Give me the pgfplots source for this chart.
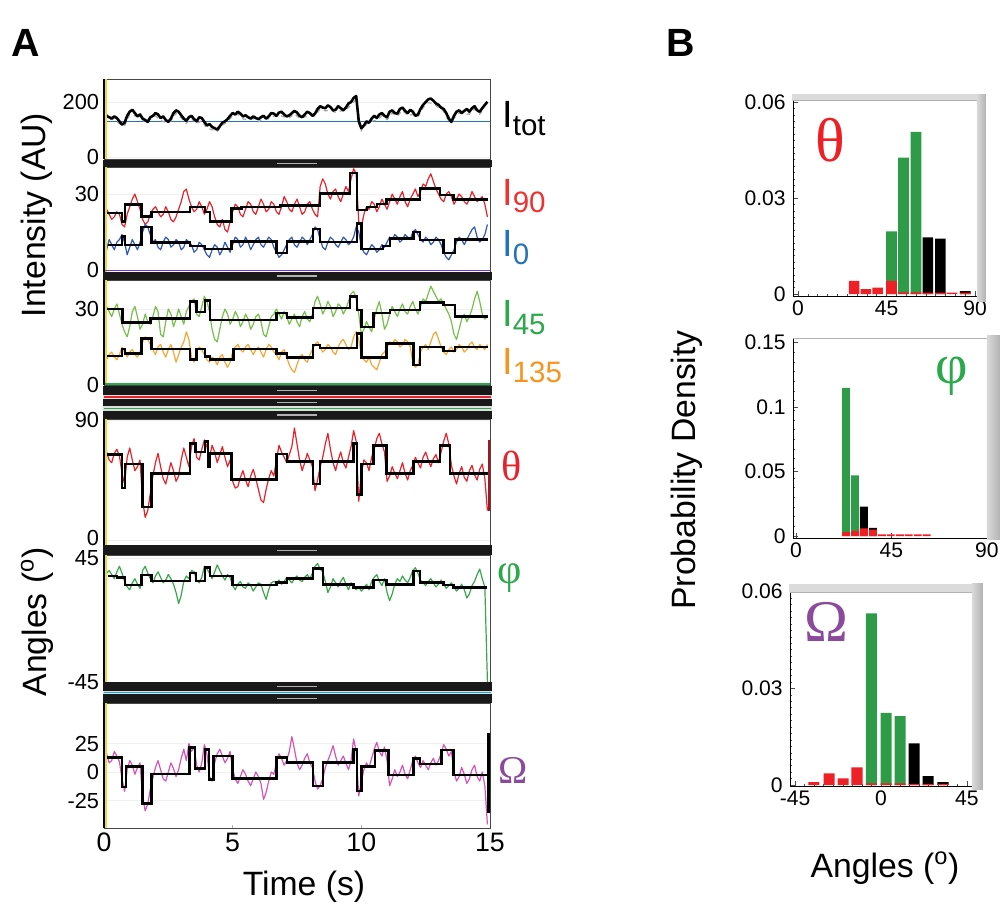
\documentclass[border=0pt]{standalone}
\usepackage{fontspec}
\setmainfont{Liberation Sans}
\newfontfamily\grk{Liberation Serif}
\usepackage{pgfplots}
\pgfplotsset{compat=1.18}

\definecolor{tred}{RGB}{232,34,42}
\definecolor{tblue}{RGB}{50,88,182}
\definecolor{tgreen}{RGB}{118,192,74}
\definecolor{torange}{RGB}{246,166,52}
\definecolor{pgreen}{RGB}{58,166,74}
\definecolor{tmag}{RGB}{212,85,184}
\definecolor{lred}{RGB}{238,50,50}
\definecolor{lblue}{RGB}{36,115,186}
\definecolor{lgreen}{RGB}{43,168,74}
\definecolor{lorange}{RGB}{247,148,30}
\definecolor{lpurple}{RGB}{139,74,156}
\definecolor{hgreen}{RGB}{46,155,73}
\definecolor{hred}{RGB}{238,32,37}
\definecolor{yel}{RGB}{232,222,40}

\pgfplotsset{
  panA/.style={scale only axis, anchor=south west, width=96.5mm,
    xmin=0, xmax=15, xtick=\empty, ytick pos=left,
    axis line style={draw=gray!55!black, line width=0.6pt},
    tick style={draw=gray!60, line width=0.3pt}, major tick length=0.8mm,
    yticklabel style={font=\fontsize{15.5}{18}\selectfont},
    ymajorgrids, grid style={gray!12, line width=0.3pt},
    after end axis/.append code={
      \draw[black, line width=0.75mm] (rel axis cs:0,0) -- (rel axis cs:0,1);
      \draw[yel, line width=0.4mm] ([xshift=0.55mm]rel axis cs:0,0) -- ([xshift=0.55mm]rel axis cs:0,1);
    }},
  tr/.style={line width=0.3mm, line join=round},
  st/.style={black, line width=0.6mm, const plot},
  panB/.style={scale only axis, anchor=south west,
    axis line style={black, line width=0.6pt}, tick pos=left,
    scaled y ticks=false, scaled x ticks=false,
    tick style={draw=gray!60!black, line width=0.4pt},
    major tick length=1.2mm, minor tick length=0.6mm,
    ticklabel style={font=\fontsize{15}{18}\selectfont},
    yticklabel style={xshift=-0.6mm},
    every axis plot/.append style={ybar, bar shift=0pt, draw=none}},
}
\newcommand\Ilab[1]{{\fontsize{27}{27}\selectfont I}\raisebox{-2mm}{\fontsize{21}{21}\selectfont #1}}

\begin{document}
\begin{tikzpicture}
\useasboundingbox (0,0) rectangle (250.5mm,-230mm);

% ---------- Panel A ----------
% I_tot
\begin{axis}[panA, at={(26mm,-39.75mm)}, height=20mm, ymin=-7, ymax=284,
  ytick={0,200}, yticklabels={0,200}]
\addplot[lblue, line width=0.3mm] coordinates {(0,128)(15,128)};
\addplot[gray!70, dashed, line width=0.3mm] table[x expr=\coordindex/5, y index=0, header=false, row sep=\\]
{155\\136\\140\\121\\114\\156\\150\\146\\126\\137\\150\\133\\126\\131\\160\\143\\122\\141\\121\\133\\104\\100\\92\\116\\129\\150\\156\\139\\136\\140\\128\\141\\139\\149\\153\\146\\143\\158\\141\\146\\150\\149\\175\\168\\172\\162\\168\\170\\190\\210\\96\\120\\131\\133\\150\\136\\160\\149\\170\\151\\155\\146\\180\\198\\195\\180\\166\\131\\141\\160\\158\\156\\175\\156\\180\\};
\addplot[black, line width=0.65mm, line join=round] table[x expr=\coordindex/10, y index=0, header=false, row sep=\\]
{165\\150\\145\\140\\148\\142\\130\\118\\125\\150\\165\\172\\160\\148\\155\\140\\135\\128\\145\\150\\160\\155\\142\\148\\135\\128\\140\\160\\170\\165\\152\\140\\132\\145\\150\\138\\130\\145\\142\\128\\115\\120\\110\\105\\100\\112\\125\\130\\138\\150\\160\\155\\165\\158\\148\\152\\145\\140\\148\\142\\138\\145\\150\\140\\148\\160\\158\\150\\162\\165\\155\\148\\152\\160\\168\\162\\150\\145\\155\\165\\160\\150\\158\\175\\185\\180\\178\\188\\182\\170\\172\\185\\178\\170\\180\\195\\200\\215\\222\\130\\105\\115\\130\\125\\140\\150\\142\\155\\160\\150\\145\\165\\170\\160\\158\\175\\180\\168\\160\\172\\165\\150\\155\\175\\190\\200\\210\\213\\205\\195\\190\\180\\175\\160\\140\\128\\150\\165\\170\\160\\168\\175\\165\\178\\185\\170\\165\\178\\190\\201\\};
\end{axis}

% I90 and I0
\begin{axis}[panA, at={(26mm,-68mm)}, height=26.25mm, ymin=-0.8, ymax=40.7,
  ytick={0,30}, yticklabels={0,30}]
\addplot[tr, tred] table[x expr=\coordindex/10, y index=0, header=false, row sep=\\]
{27\\24\\22\\20\\21\\23\\22\\18\\17\\22\\25\\28\\30\\27\\24\\20\\18\\19\\22\\24\\25\\23\\21\\22\\25\\23\\20\\19\\21\\24\\27\\31\\32\\28\\25\\23\\24\\27\\25\\22\\24\\27\\25\\21\\18\\17\\20\\16\\15\\19\\23\\26\\25\\22\\21\\24\\27\\26\\23\\22\\25\\28\\26\\23\\24\\27\\26\\23\\22\\25\\29\\27\\24\\23\\26\\28\\25\\22\\23\\26\\27\\24\\22\\21\\33\\36\\34\\30\\28\\31\\32\\29\\27\\30\\33\\31\\36\\40\\38\\19\\17\\22\\25\\24\\27\\26\\23\\25\\28\\26\\24\\27\\30\\28\\26\\29\\31\\27\\25\\28\\30\\32\\29\\31\\34\\33\\36\\38\\35\\32\\30\\28\\27\\30\\31\\29\\26\\28\\30\\29\\27\\26\\28\\31\\29\\27\\28\\29\\26\\21\\};
\addplot[tr, tblue] table[x expr=\coordindex/10, y index=0, header=false, row sep=\\]
{3\\8\\12\\10\\8\\11\\12\\14\\11\\6\\9\\12\\10\\8\\11\\15\\18\\17\\14\\11\\12\\9\\8\\11\\13\\12\\9\\10\\12\\11\\8\\9\\12\\11\\10\\7\\8\\11\\10\\8\\6\\5\\8\\10\\9\\6\\8\\11\\9\\7\\10\\13\\12\\9\\10\\13\\11\\8\\10\\12\\13\\10\\9\\11\\13\\12\\9\\7\\5\\6\\8\\10\\12\\13\\10\\9\\11\\13\\12\\10\\12\\14\\17\\16\\12\\9\\8\\11\\13\\12\\10\\9\\11\\13\\12\\10\\11\\13\\17\\15\\9\\7\\6\\8\\10\\9\\7\\8\\10\\9\\11\\13\\12\\14\\13\\11\\12\\14\\13\\12\\15\\16\\14\\12\\11\\13\\12\\10\\11\\13\\12\\10\\7\\5\\4\\6\\8\\11\\13\\12\\10\\12\\14\\16\\17\\13\\11\\12\\14\\18\\};
\addplot[st] coordinates {(0.1,22.6)(0.69,19.1)(0.82,25.9)(1.46,21.1)(1.85,23)(3.34,25)(3.92,23)(4.12,19.1)(4.96,24.3)(5.35,25)(6.84,25.5)(8.39,30.3)(9.56,38.4)(9.82,23.7)(10.21,25)(10.6,26)(10.98,27.9)(12.28,32.2)(13.06,29.6)(13.58,27.9)(14.94,27.9)};
\addplot[st] coordinates {(0.17,9.9)(0.69,13.2)(0.82,9.9)(1.46,17.1)(1.85,10.8)(3.34,9.5)(3.92,8.3)(4.96,11.2)(6.71,6.8)(7.1,11.2)(8.13,16.1)(8.39,11.1)(9.82,18.4)(10.0,8.2)(10.85,9.5)(11.11,12.5)(12.02,15.1)(12.28,11.8)(13.19,6.6)(13.64,12.1)(14.94,12.1)};
\end{axis}

% I45 and I135
\begin{axis}[panA, at={(26mm,-96.25mm)}, height=26.25mm, ymin=0, ymax=41.45,
  ytick={0,30}, yticklabels={0,30}]
\addplot[tr, tgreen] table[x expr=\coordindex/10, y index=0, header=false, row sep=\\]
{26\\31\\29\\27\\30\\32\\28\\24\\21\\19\\23\\29\\31\\27\\22\\24\\28\\25\\24\\27\\31\\29\\20\\19\\25\\30\\28\\23\\26\\30\\27\\24\\29\\31\\33\\34\\28\\27\\31\\35\\33\\29\\22\\18\\17\\22\\27\\30\\28\\24\\26\\29\\27\\23\\25\\28\\26\\22\\24\\27\\28\\25\\20\\19\\23\\27\\28\\30\\28\\26\\29\\27\\24\\26\\28\\25\\23\\27\\29\\26\\25\\28\\33\\35\\32\\28\\30\\33\\31\\27\\29\\32\\31\\28\\30\\33\\36\\37\\34\\28\\20\\22\\25\\23\\21\\26\\30\\33\\28\\22\\24\\28\\31\\29\\27\\30\\32\\29\\28\\31\\33\\30\\28\\31\\34\\33\\36\\39\\37\\35\\33\\34\\32\\30\\28\\25\\20\\18\\22\\26\\28\\25\\27\\30\\34\\37\\33\\28\\26\\27\\};
\addplot[tr, torange] table[x expr=\coordindex/10, y index=0, header=false, row sep=\\]
{12\\10\\12\\13\\11\\10\\12\\15\\13\\11\\13\\14\\12\\11\\13\\17\\19\\18\\16\\14\\12\\15\\16\\13\\11\\14\\16\\13\\9\\12\\15\\17\\21\\18\\11\\9\\13\\15\\14\\12\\10\\9\\11\\10\\8\\11\\12\\9\\7\\9\\13\\15\\16\\14\\13\\15\\16\\14\\12\\14\\15\\13\\11\\14\\16\\15\\13\\12\\10\\13\\14\\11\\8\\6\\5\\8\\11\\12\\10\\9\\12\\14\\16\\17\\15\\13\\14\\16\\15\\13\\12\\15\\17\\18\\16\\14\\15\\19\\21\\18\\12\\10\\9\\11\\8\\7\\6\\9\\12\\13\\15\\17\\16\\18\\17\\15\\16\\18\\17\\15\\9\\7\\8\\13\\15\\16\\14\\17\\20\\21\\18\\15\\13\\12\\14\\15\\13\\14\\16\\15\\13\\14\\16\\17\\15\\14\\16\\15\\14\\16\\};
\addplot[st] coordinates {(0.1,29.9)(0.72,24.6)(1.8,26.3)(3.34,32.9)(3.6,28.9)(3.92,33.3)(4.12,25.7)(6.71,28.5)(7.1,26.7)(8.13,30.3)(9.56,34.9)(9.82,29.6)(10.0,22.8)(10.47,28.5)(11.11,29.6)(12.28,32.5)(13.19,31.6)(13.64,27)(14.94,27)};
\addplot[st] coordinates {(0.1,11.4)(0.69,14.1)(0.82,12.5)(1.46,18.4)(1.85,14.1)(3.34,10.1)(3.6,14.1)(3.92,11.2)(4.12,10.1)(5.03,14.3)(6.71,12.5)(7.1,10.9)(8.13,15.8)(8.39,14.5)(9.82,20.4)(10.0,10.9)(10.98,16.4)(12.02,7.9)(12.28,15.1)(13.19,13.5)(13.64,15.1)(14.94,15.1)};
\end{axis}

% theta
\begin{axis}[panA, at={(26mm,-136.25mm)}, height=31.5mm, ymin=-3.7, ymax=90.7,
  ytick={0,90}, yticklabels={\raisebox{1.2mm}{0},90}]
\addplot[tr, tred] table[x expr=\coordindex/10, y index=0, header=false, row sep=\\]
{88\\66\\60\\58\\65\\68\\63\\50\\42\\62\\69\\60\\52\\55\\60\\30\\17\\22\\35\\48\\58\\65\\55\\46\\42\\50\\58\\52\\44\\48\\60\\69\\62\\55\\70\\76\\62\\60\\68\\75\\70\\62\\71\\66\\58\\64\\70\\62\\55\\60\\44\\39\\40\\47\\52\\45\\40\\48\\53\\46\\38\\30\\28\\38\\46\\52\\48\\60\\71\\66\\62\\58\\64\\70\\84\\72\\60\\52\\58\\65\\60\\55\\37\\45\\55\\62\\72\\80\\68\\58\\52\\60\\66\\58\\54\\62\\70\\82\\74\\29\\50\\60\\58\\52\\62\\68\\76\\80\\72\\66\\44\\48\\55\\50\\46\\52\\58\\50\\45\\52\\56\\62\\58\\54\\62\\66\\60\\55\\61\\64\\58\\66\\74\\80\\72\\56\\48\\42\\50\\55\\47\\44\\52\\56\\49\\45\\53\\57\\46\\22\\};
\addplot[st] coordinates {(0.13,64)(0.69,39)(0.82,57)(1.5,25)(1.85,50)(3.34,72.5)(3.55,66)(3.92,74)(4.05,55)(4.12,65)(4.96,45.5)(6.71,64.4)(7.1,59)(8.13,42)(8.39,59)(9.69,72.5)(9.82,34)(10.0,57)(10.47,71)(10.98,50)(12.02,59)(13.06,71)(13.45,50)(14.94,50)};
\addplot[tred!70!black, line width=0.6mm] coordinates {(14.95,75)(14.95,22)};
\end{axis}

% phi
\begin{axis}[panA, at={(26mm,-170.5mm)}, height=31.75mm, ymin=-45, ymax=47.2,
  ytick={-45,45}, yticklabels={-45,\raisebox{-0.8mm}{45}}]
\addplot[tr, pgreen] table[x expr=\coordindex/10, y index=0, header=false, row sep=\\]
{10\\34\\36\\33\\30\\35\\39\\34\\28\\24\\22\\27\\30\\26\\23\\36\\39\\34\\30\\27\\32\\35\\31\\27\\29\\33\\30\\26\\20\\12\\18\\28\\32\\30\\36\\35\\29\\27\\31\\39\\37\\34\\30\\35\\40\\36\\32\\29\\33\\31\\25\\22\\26\\28\\24\\23\\27\\25\\21\\24\\27\\26\\20\\15\\22\\27\\28\\27\\29\\26\\28\\31\\29\\27\\30\\32\\29\\28\\31\\33\\30\\34\\39\\41\\37\\35\\28\\20\\24\\30\\27\\24\\28\\31\\26\\22\\27\\25\\22\\24\\21\\23\\26\\22\\28\\31\\33\\28\\25\\30\\20\\14\\19\\26\\30\\28\\32\\29\\27\\31\\36\\38\\34\\29\\27\\25\\28\\30\\27\\24\\26\\29\\26\\23\\25\\27\\24\\21\\23\\26\\22\\16\\19\\25\\28\\33\\37\\30\\24\\-45\\};
\addplot[st] coordinates {(0.17,31.9)(0.5,31)(0.82,25.4)(1.46,32.7)(1.85,28.5)(3.34,34.3)(3.57,28.5)(3.92,38)(4.12,31.9)(5.0,25.4)(6.71,27.1)(7.1,30.2)(8.13,37.5)(8.52,25.9)(9.69,23.7)(10.47,29)(10.98,25.9)(12.02,35.8)(12.28,27.1)(13.19,25.4)(13.58,23.5)(14.87,23.5)};
\end{axis}

% Omega
\begin{axis}[panA, at={(26mm,-207mm)}, height=31.25mm, ymin=-49.1, ymax=60.5,
  ytick={-25,0,25}, yticklabels={-25,0,25},
  xtick={0,5,10,15}, xticklabels={0,5,10,15}, xtick pos=left,
  xticklabel style={font=\fontsize{19}{22}\selectfont}]
\addplot[tr, tmag] table[x expr=\coordindex/10, y index=0, header=false, row sep=\\]
{30\\16\\8\\10\\18\\14\\9\\-6\\-17\\2\\10\\6\\-2\\4\\8\\-22\\-34\\-28\\-15\\-5\\4\\10\\2\\-6\\-8\\0\\8\\3\\-4\\2\\12\\20\\10\\25\\18\\22\\6\\0\\8\\24\\16\\-4\\-8\\8\\16\\20\\14\\8\\12\\18\\2\\-6\\-10\\-4\\2\\-2\\-8\\-12\\-6\\0\\-4\\-10\\-24\\-18\\-8\\0\\-2\\8\\16\\12\\6\\10\\18\\31\\20\\8\\2\\6\\12\\16\\8\\4\\-8\\-15\\-12\\-6\\4\\10\\16\\23\\14\\6\\10\\14\\8\\2\\10\\29\\18\\-21\\-8\\2\\8\\4\\12\\20\\26\\18\\14\\22\\10\\-12\\-6\\2\\-4\\0\\6\\-2\\-6\\2\\10\\14\\8\\4\\10\\6\\2\\8\\12\\6\\10\\16\\24\\20\\14\\18\\0\\-8\\-4\\4\\-2\\-10\\-6\\2\\6\\-4\\-8\\0\\-12\\-46\\};
\addplot[st] coordinates {(0.13,12.9)(0.69,-13.4)(0.85,4.7)(1.5,-27.5)(1.85,-1.8)(3.32,21.6)(3.53,3.2)(3.92,19.9)(4.09,-6.4)(4.25,14)(5.0,-5.6)(6.71,12.9)(7.1,8.5)(8.13,-12.3)(8.52,8.3)(9.69,19.9)(9.82,-16.4)(10.0,4.7)(10.53,18.7)(11.05,-2.6)(12.02,12)(12.28,7)(13.12,19.3)(13.58,-2.6)(14.94,-2.6)};
\addplot[black, line width=1mm] coordinates {(14.95,34)(14.95,-36)};
\end{axis}

% ---------- Panel B ----------
% theta histogram
\begin{axis}[panB, at={(198.25mm,-74mm)}, width=46mm, height=49.5mm,
  xmin=-2.54, xmax=91, ymin=-0.000625, ymax=0.06125,
  xtick={0,45,90}, xticklabels={0,45,90},
  ytick={0,0.03,0.06}, yticklabels={0,0.03,0.06},
  minor xtick={5,10,...,85}, minor ytick={0.002,0.004,...,0.058}, bar width=5.4]
\addplot[fill=hgreen] coordinates {(47.5,0.0196)(53.6,0.0426)(60,0.0507)};
\addplot[fill=black] coordinates {(66,0.0177)(72.4,0.0173)(85,0.0009)};
\addplot[fill=hred] coordinates {(28.5,0.0041)(34.5,0.0015)(40.5,0.0020)(47.5,0.0041)(53.6,0.0005)(60,0.0005)(66,0.0004)(72.4,0.0004)(78.3,0.0004)(85,0.0004)};
\end{axis}

% phi histogram
\begin{axis}[panB, at={(198.25mm,-134.5mm)}, width=48.5mm, height=50mm,
  xmin=-1.42, xmax=90.1, ymin=-0.00155, ymax=0.1536,
  xtick={0,45,90}, xticklabels={0,45,90},
  ytick={0,0.05,0.1,0.15}, yticklabels={0,0.05,0.1,0.15},
  minor ytick={0.0075,0.015,...,0.1425}, bar width=3.7]
\addplot[fill=hgreen] coordinates {(23.6,0.115)(27.8,0.047)};
\addplot[fill=black] coordinates {(32,0.0227)(36.3,0.0063)};
\addplot[fill=hred] coordinates {(23.6,0.003)(27.8,0.004)(32,0.006)(36.3,0.005)(40.5,0.0012)(44.7,0.0012)(49,0.0012)(53.2,0.0012)(57.4,0.0012)(61.6,0.0012)};
\end{axis}

% Omega histogram
\begin{axis}[panB, at={(197.5mm,-196.5mm)}, width=45.5mm, height=48.75mm,
  xmin=-47.7, xmax=47.7, ymin=-0.0003, ymax=0.0602,
  xtick={-45,0,45}, xticklabels={-45,0,45},
  ytick={0,0.03,0.06}, yticklabels={0,0.03,0.06},
  minor xtick={-40,-35,...,40}, minor ytick={0.002,0.004,...,0.058}, bar width=5.8]
\addplot[fill=hgreen] coordinates {(-5,0.0533)(2.7,0.0224)(10,0.0214)};
\addplot[fill=black] coordinates {(17.4,0.0129)(24.7,0.0028)(32.5,0.0009)};
\addplot[fill=hred] coordinates {(-35.2,0.0009)(-27.2,0.0036)(-19.9,0.0021)(-12.6,0.0055)(-5,0.0005)(2.7,0.0005)(10,0.0005)(17.4,0.0004)(24.7,0.0004)(32.5,0.0004)};
\end{axis}

% ---------- decorations and labels (pixel grid) ----------
\begin{scope}[x=0.25mm, y=-0.25mm]
  % coloured lines at panel bottoms
  \draw[tmag!60!blue, line width=0.45mm] (105,270.5) -- (490,270.5);
  \draw[lgreen, line width=0.45mm] (105,384) -- (490,384);
  % gaps between splitter bars
  \fill[gray!25] (103,395) rectangle (492,399);
  \fill[gray!25] (103,406.5) rectangle (492,411);
  \fill[gray!25] (103,691) rectangle (492,694);
  \draw[tred, line width=0.35mm] (104,397) -- (491,397);
  \draw[lgreen, line width=0.35mm] (104,408.7) -- (491,408.7);
  \draw[lblue!60!cyan, line width=0.35mm] (104,692.5) -- (491,692.5);
  % splitter bars
  \foreach \a/\b in {159.5/167, 272/280, 386/395, 399/406.5, 411/419, 545.5/555, 682.5/691, 694/703}{
    \fill[black!90] (103,\a) rectangle (492,\b);
    \draw[gray!60, line width=0.35mm] (277,{(\a+\b)/2}) -- (317,{(\a+\b)/2});
  }
  % panel B frames
  \fill[gray!28] (792,94) rectangle (986,101);
  \draw[gray!60, line width=0.4pt] (793,100.5) -- (977,100.5);
  \shade[left color=gray!30, right color=gray!60] (977,94) rectangle (986,302);
  \draw[gray!60, line width=0.6pt] (793,338) -- (987,338);
  \shade[left color=gray!30, right color=gray!60] (987,336) rectangle (1000,540);
  \fill[gray!28] (789,584) rectangle (983,592.5);
  \draw[gray!60, line width=0.4pt] (790,592) -- (972,592);
  \shade[left color=gray!30, right color=gray!60] (972,584) rectangle (983,790);

  % panel letters and axis titles
  \node[font=\bfseries\fontsize{28}{28}\selectfont] at (26,43) {A};
  \node[font=\bfseries\fontsize{28}{28}\selectfont] at (681,43) {B};
  \node[rotate=90, font=\fontsize{24}{24}\selectfont] at (37,215) {Intensity (AU)};
  \node[rotate=90, font=\fontsize{24}{24}\selectfont] at (37,622) {Angles (\textsuperscript{o})};
  \node[font=\fontsize{24}{24}\selectfont] at (304,887) {Time (s)};
  \node[rotate=90, font=\fontsize{24}{24}\selectfont] at (687,470) {Probability Density};
  \node[font=\fontsize{24}{24}\selectfont] at (885,868) {Angles (\textsuperscript{o})};

  % trace labels
  \node[anchor=base west, inner sep=0pt] at (502,127) {\Ilab{tot}};
  \node[anchor=base west, inner sep=0pt, text=lred] at (502,205) {\Ilab{90}};
  \node[anchor=base west, inner sep=0pt, text=lblue] at (502,257) {\Ilab{0}};
  \node[anchor=base west, inner sep=0pt, text=lgreen] at (502,327) {\Ilab{45}};
  \node[anchor=base west, inner sep=0pt, text=lorange] at (502,375) {\Ilab{135}};
  \node[text=tred, font=\grk\fontsize{30}{30}\selectfont] at (512,466) {θ};
  \node[text=lgreen, font=\grk\fontsize{30}{30}\selectfont] at (510,578) {φ};
  \node[text=lpurple, font=\grk\fontsize{28}{28}\selectfont] at (513,770) {Ω};
  \node[text=hred, font=\grk\fontsize{44}{44}\selectfont] at (830,140) {θ};
  \node[text=lgreen, font=\grk\fontsize{40}{40}\selectfont] at (952,376) {φ};
  \node[text=lpurple, font=\grk\fontsize{42}{42}\selectfont] at (826,622) {Ω};
\end{scope}
\end{tikzpicture}
\end{document}
